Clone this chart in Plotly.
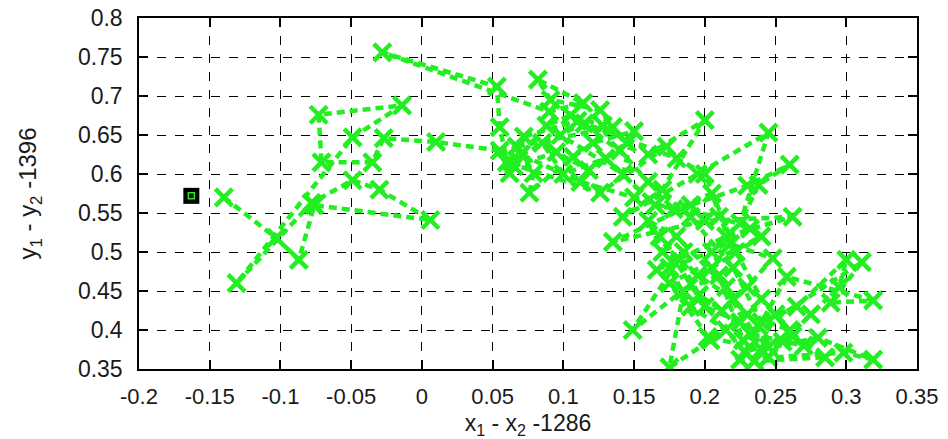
import plotly.graph_objects as go

# Trajectory (x1 - x2 - 1286, y1 - y2 - 1396)
x_vals = [
    -0.140, -0.103, -0.087, -0.076, 0.006, -0.030, -0.049, -0.078, -0.131, -0.049,
    -0.014, -0.073, -0.071, -0.035, -0.027, 0.010,
    0.055, 0.062, 0.055, 0.053, -0.028, 0.090, 0.114, 0.082, 0.091, 0.126,
    0.135, 0.067, 0.079, 0.076, 0.107, 0.121, 0.150, 0.142, 0.098, 0.060,
    0.126, 0.173, 0.160, 0.200, 0.170, 0.142, 0.195, 0.245, 0.225, 0.238,
    0.260, 0.230, 0.190, 0.135, 0.200, 0.262, 0.215, 0.166, 0.185, 0.149,
    0.205, 0.240, 0.175, 0.204, 0.175, 0.185, 0.210, 0.227, 0.311, 0.289,
    0.319, 0.258, 0.225, 0.298, 0.319, 0.280, 0.240, 0.202, 0.230, 0.260,
    0.245, 0.220, 0.195, 0.170, 0.160, 0.180, 0.215, 0.232, 0.270, 0.250,
    0.235, 0.285, 0.262, 0.240, 0.222, 0.200, 0.180, 0.115, 0.085, 0.100,
    0.130, 0.165, 0.210, 0.232, 0.205, 0.175, 0.190, 0.215, 0.228, 0.255,
    0.275, 0.295, 0.300, 0.265, 0.240, 0.220, 0.190, 0.160, 0.140, 0.110,
    0.072, 0.065, 0.095, 0.118, 0.145, 0.128, 0.105, 0.088, 0.070, 0.112,
    0.150, 0.178, 0.205, 0.218, 0.248, 0.230, 0.212, 0.196, 0.182, 0.168,
    0.200, 0.225, 0.245, 0.238,
]
y_vals = [
    0.570, 0.518, 0.490, 0.560, 0.541, 0.580, 0.592, 0.563, 0.460, 0.647,
    0.688, 0.676, 0.615, 0.615, 0.646, 0.641,
    0.630, 0.601, 0.660, 0.712, 0.756, 0.680, 0.691, 0.721, 0.695, 0.682,
    0.660, 0.635, 0.601, 0.576, 0.622, 0.640, 0.655, 0.600, 0.650, 0.615,
    0.576, 0.635, 0.625, 0.669, 0.580, 0.545, 0.600, 0.653, 0.537, 0.586,
    0.612, 0.585, 0.560, 0.513, 0.540, 0.545, 0.520, 0.477, 0.500, 0.400,
    0.480, 0.520, 0.460, 0.387, 0.352, 0.450, 0.470, 0.387, 0.487, 0.435,
    0.438, 0.468, 0.362, 0.371, 0.362, 0.390, 0.375, 0.391, 0.420, 0.400,
    0.365, 0.440, 0.470, 0.500, 0.540, 0.520, 0.455, 0.395, 0.380, 0.420,
    0.360, 0.365, 0.392, 0.440, 0.500, 0.600, 0.620, 0.665, 0.640, 0.600,
    0.620, 0.560, 0.545, 0.530, 0.500, 0.480, 0.430, 0.400, 0.372, 0.385,
    0.420, 0.455, 0.490, 0.430, 0.410, 0.480, 0.545, 0.590, 0.630, 0.668,
    0.648, 0.610, 0.628, 0.605, 0.640, 0.662, 0.675, 0.662, 0.625, 0.590,
    0.570, 0.555, 0.575, 0.510, 0.492, 0.455, 0.425, 0.445, 0.490, 0.520,
    0.430, 0.410, 0.378, 0.405,
]

start_x = [-0.163]
start_y = [0.572]

x_ticks = [-0.2, -0.15, -0.1, -0.05, 0, 0.05, 0.1, 0.15, 0.2, 0.25, 0.3, 0.35]
x_tick_text = ["-0.2", "-0.15", "-0.1", "-0.05", "0", "0.05", "0.1", "0.15", "0.2", "0.25", "0.3", "0.35"]
y_ticks = [0.35, 0.4, 0.45, 0.5, 0.55, 0.6, 0.65, 0.7, 0.75, 0.8]
y_tick_text = ["0.35", "0.4", "0.45", "0.5", "0.55", "0.6", "0.65", "0.7", "0.75", "0.8"]

green = "#22ee22"
font_family = "Liberation Sans, Arial, sans-serif"
text_color = "#1a1a1a"

fig = go.Figure()
fig.add_trace(go.Scatter(
    x=x_vals, y=y_vals, mode="lines+markers",
    line=dict(color=green, width=4.5, dash="8px,5px"),
    marker=dict(symbol="x-thin-open", size=17, line=dict(color=green, width=4.5)),
    showlegend=False, cliponaxis=True,
))
fig.add_trace(go.Scatter(
    x=start_x, y=start_y, mode="markers",
    marker=dict(symbol="square", size=16, color="black", line=dict(width=0)),
    showlegend=False,
))
fig.add_trace(go.Scatter(
    x=start_x, y=start_y, mode="markers",
    marker=dict(symbol="square-open", size=6, color=green, line=dict(color=green, width=1.5)),
    showlegend=False,
))

axis_common = dict(
    showgrid=True, gridcolor="black", griddash="dash", gridwidth=1.2,
    showline=True, linecolor="black", linewidth=1.5, mirror="allticks",
    ticks="inside", ticklen=9, tickwidth=1.5, tickcolor="black",
    zeroline=False, automargin=False,
)

fig.update_xaxes(
    range=[-0.2, 0.35], tickvals=x_ticks, ticktext=x_tick_text,
    ticklabelstandoff=7,
    tickfont=dict(family=font_family, size=22, color=text_color),
    title=dict(text="x<sub>1</sub> - x<sub>2</sub> -1286", standoff=10,
               font=dict(family=font_family, size=23, color=text_color)),
    **axis_common,
)
fig.update_yaxes(
    range=[0.35, 0.8], tickvals=y_ticks, ticktext=y_tick_text,
    ticklabelstandoff=10,
    tickfont=dict(family=font_family, size=23, color=text_color),
    title=dict(text="y<sub>1</sub> - y<sub>2</sub> -1396", standoff=34,
               font=dict(family=font_family, size=24, color=text_color)),
    **axis_common,
)

fig.update_layout(
    width=948, height=439,
    margin=dict(l=139, r=31, t=18, b=70),
    paper_bgcolor="white", plot_bgcolor="white",
)

fig.write_html("out.html")
